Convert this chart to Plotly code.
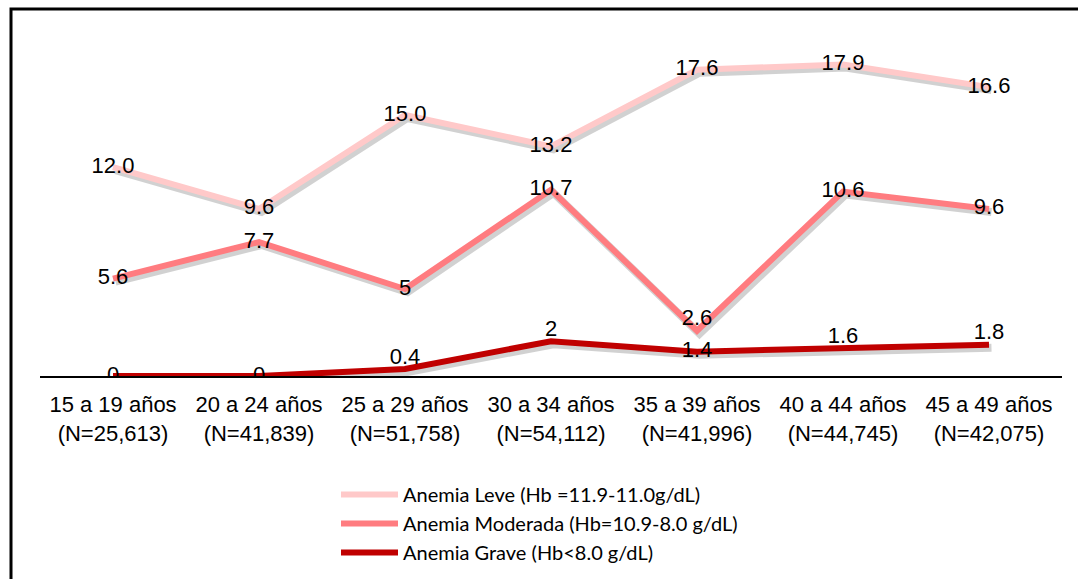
import plotly.graph_objects as go

categories = ["15 a 19 años<br>(N=25,613)", "20 a 24 años<br>(N=41,839)",
              "25 a 29 años<br>(N=51,758)", "30 a 34 años<br>(N=54,112)",
              "35 a 39 años<br>(N=41,996)", "40 a 44 años<br>(N=44,745)",
              "45 a 49 años<br>(N=42,075)"]
leve = [12.0, 9.6, 15.0, 13.2, 17.6, 17.9, 16.6]
leve_txt = ["12.0", "9.6", "15.0", "13.2", "17.6", "17.9", "16.6"]
moderada = [5.6, 7.7, 5, 10.7, 2.6, 10.6, 9.6]
moderada_txt = ["5.6", "7.7", "5", "10.7", "2.6", "10.6", "9.6"]
grave = [0, 0, 0.4, 2, 1.4, 1.6, 1.8]
grave_txt = ["0", "0", "0.4", "2", "1.4", "1.6", "1.8"]

names = ["Anemia Leve (Hb =11.9-11.0g/dL)",
         "Anemia Moderada (Hb=10.9-8.0 g/dL)",
         "Anemia Grave (Hb<8.0 g/dL)"]
colors = ["#FFC9C9", "#FF7C80", "#C00000"]

W, H = 1078, 579
ML, MR, MT, MB = 40, 16, 28, 203
YMAX = 20.0
pw = W - ML - MR
ph = H - MT - MB
dx = 2.5 / pw * 7      # shadow offset in x units
dy = 3.0 / ph * YMAX   # shadow offset in y units

xs = list(range(len(categories)))
fig = go.Figure()

series = [
    (leve, leve_txt, ["middle center"] * 7),
    (moderada, moderada_txt, ["middle center"] * 4 + ["top center"] + ["middle center"] * 2),
    (grave, grave_txt, ["middle center", "middle center", "top center", "top center",
                        "middle center", "top center", "top center"]),
]

for (vals, txt, pos), nm, col in zip(series, names, colors):
    fig.add_trace(go.Scatter(
        x=[x + dx for x in xs], y=[v - dy for v in vals], mode="lines",
        line=dict(color="rgba(0,0,0,0.18)", width=8),
        hoverinfo="skip", showlegend=False))

for (vals, txt, pos), nm, col in zip(series, names, colors):
    fig.add_trace(go.Scatter(
        x=xs, y=vals, mode="lines", name=nm,
        line=dict(color=col, width=6)))

for (vals, txt, pos), nm, col in zip(series, names, colors):
    fig.add_trace(go.Scatter(
        x=xs, y=vals, mode="text", text=txt, textposition=pos,
        textfont=dict(family="Liberation Sans", size=22, color="black"),
        hoverinfo="skip", showlegend=False))

# outer frame (left/top border of the slide box)
fx0 = (11 - ML) / pw
fy1 = 1 + (MT - 9) / ph
fig.add_shape(type="rect", xref="paper", yref="paper",
              x0=fx0, x1=1.5, y0=-1.5, y1=fy1,
              line=dict(color="black", width=3), fillcolor="rgba(0,0,0,0)",
              layer="below")

fig.update_layout(
    width=W, height=H,
    margin=dict(l=ML, r=MR, t=MT, b=MB, autoexpand=False),
    paper_bgcolor="white", plot_bgcolor="white",
    showlegend=True,
    legend=dict(xref="container", yref="container",
                x=336 / W, y=1 - 475 / H, xanchor="left", yanchor="top",
                font=dict(family="Lato", size=20, color="black"),
                itemwidth=57, bgcolor="rgba(0,0,0,0)", tracegroupgap=0),
    xaxis=dict(range=[-0.5, 6.5], tickmode="array", tickvals=xs, ticktext=categories,
               showgrid=False, zeroline=False, showline=True, linecolor="black", linewidth=2,
               ticks="outside", ticklen=8, tickcolor="rgba(0,0,0,0)",
               tickfont=dict(family="Liberation Sans", size=22, color="black")),
    yaxis=dict(range=[0, YMAX], visible=False, showgrid=False, zeroline=False),
)

fig.write_html("out.html", config={"displayModeBar": False},
               post_script="document.body.style.margin='0';document.body.style.overflow='hidden';")
